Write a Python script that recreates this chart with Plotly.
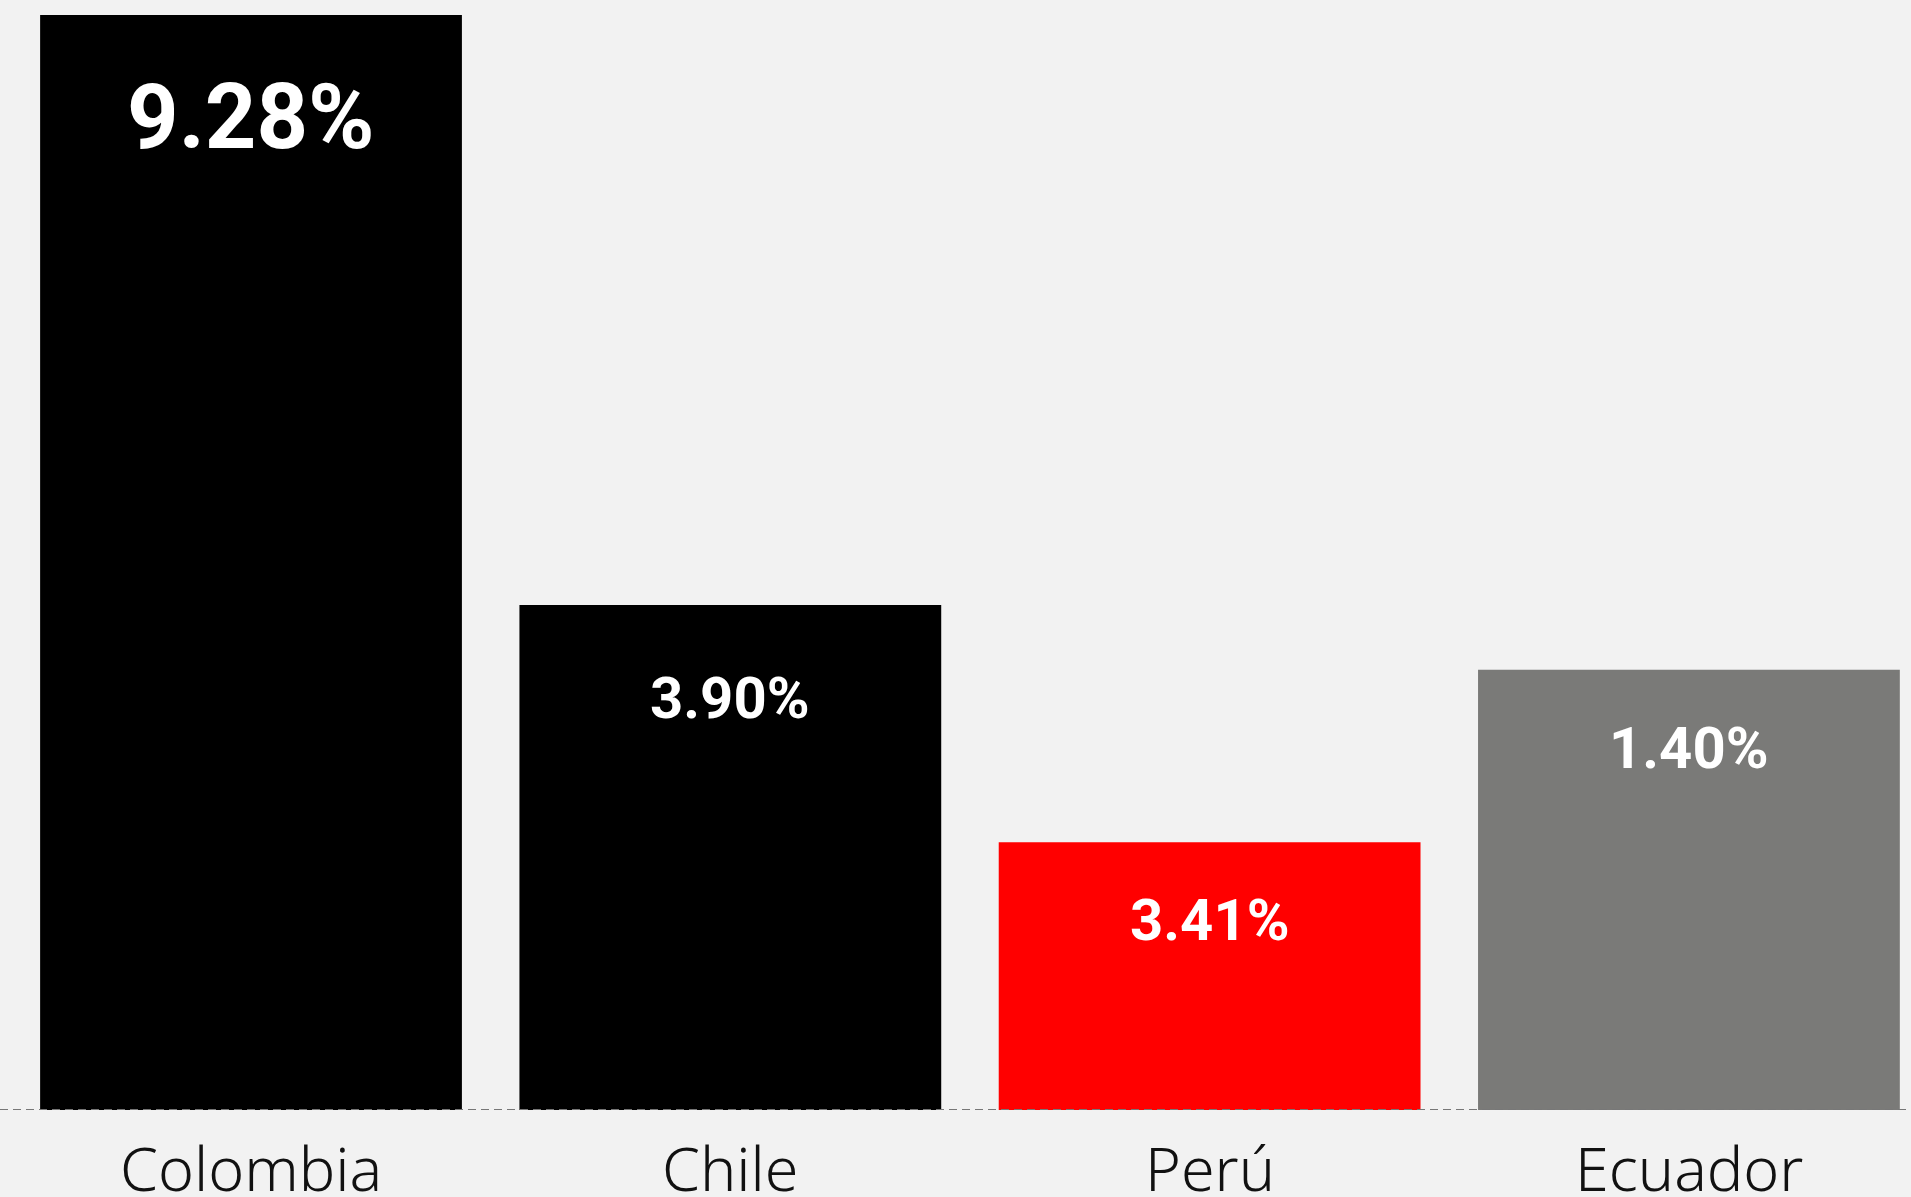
import plotly.graph_objects as go

countries = ["Colombia", "Chile", "Perú", "Ecuador"]
bar_heights = [9.28, 4.28, 2.27, 3.73]
value_labels = ["9.28%", "3.90%", "3.41%", "1.40%"]
bar_colors = ["#000000", "#000000", "#ff0000", "#7a7a78"]
label_sizes = [90, 58, 58, 58]
label_shifts = [-103, -93, -78, -78]

fig = go.Figure()
fig.add_trace(go.Bar(
    x=list(range(len(countries))),
    y=bar_heights,
    marker=dict(color=bar_colors, line=dict(width=0)),
    width=0.88,
    hoverinfo="skip",
))

for i, (h, lab) in enumerate(zip(bar_heights, value_labels)):
    fig.add_annotation(x=i, y=h, text=f"<b>{lab}</b>", showarrow=False,
                       yanchor="middle", xanchor="center", yshift=label_shifts[i],
                       font=dict(family="Roboto", size=label_sizes[i], color="#ffffff"))
    fig.add_annotation(x=i, y=0, text=countries[i], showarrow=False,
                       yanchor="top", xanchor="center", yshift=-14,
                       font=dict(family="Noto Sans", size=61, color="#111111", weight=300))

fig.add_shape(type="line", xref="paper", yref="y", x0=0, x1=1, y0=0, y1=0,
              line=dict(color="#777777", width=2, dash="8px,5px"), layer="above")

fig.update_layout(
    width=1911, height=1197,
    margin=dict(l=0, r=0, t=0, b=87),
    paper_bgcolor="#f2f2f2", plot_bgcolor="#f2f2f2",
    showlegend=False,
    xaxis=dict(range=[-0.5237, 3.4633], showticklabels=False, showgrid=False,
               zeroline=False, showline=False, fixedrange=True),
    yaxis=dict(range=[0, 9.407], showticklabels=False, showgrid=False,
               zeroline=False, showline=False, fixedrange=True),
)

fig.write_html("out.html", config={"displayModeBar": False},
               post_script="document.body.style.margin='0';document.body.style.overflow='hidden';document.body.style.background='#f2f2f2';")
